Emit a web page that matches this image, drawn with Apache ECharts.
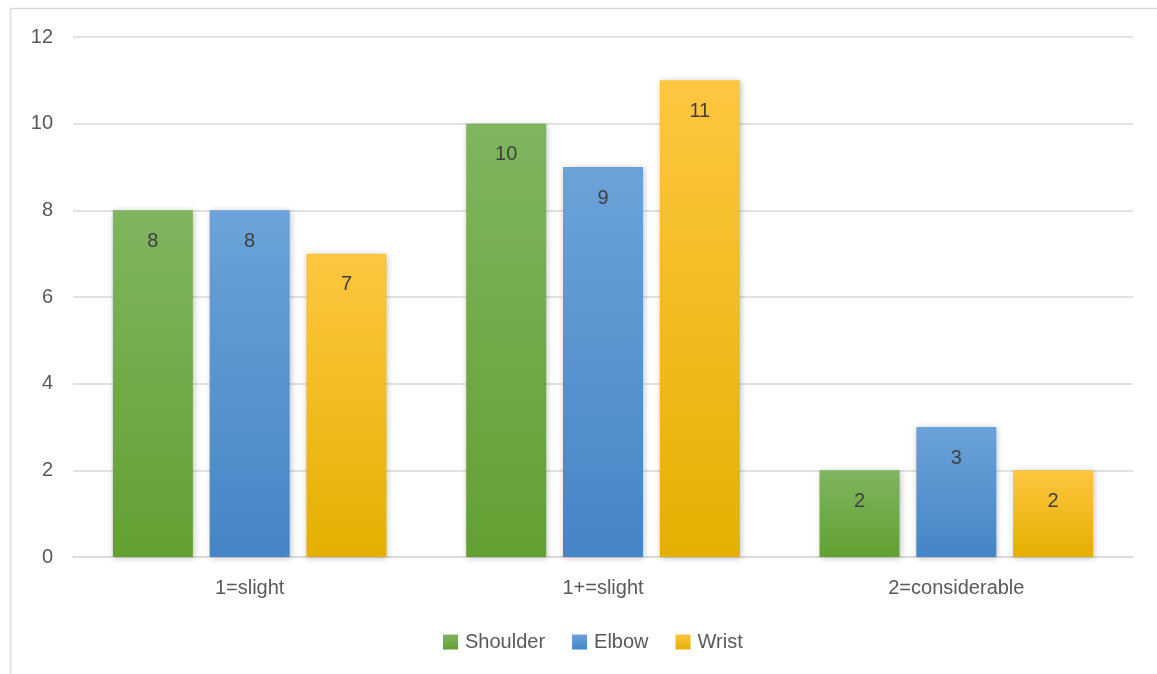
<!DOCTYPE html>
<html>
<head>
<meta charset="utf-8">
<script src="https://cdn.jsdelivr.net/npm/echarts@6/dist/echarts.min.js"></script>
<style>
  html, body { margin: 0; padding: 0; background: #fff; }
  #chart { width: 1157px; height: 674px; }
</style>
</head>
<body>
<div id="chart"></div>
<script>
var categories = ['1=slight', '1+=slight', '2=considerable']
var shoulder = [8, 10, 2]
var elbow = [8, 9, 3]
var wrist = [7, 11, 2]
var yTicks = [0, 2, 4, 6, 8, 10, 12]

var font = 'Liberation Sans, Arial, sans-serif'

function grad(top, bottom) {
    return new echarts.graphic.LinearGradient(0, 0, 0, 1, [
        { offset: 0, color: top },
        { offset: 1, color: bottom }
    ])
}

function makeSeries(name, data, top, bottom) {
    return {
        name: name,
        type: 'bar',
        data: data,
        barWidth: 80,
        barGap: '21%',
        itemStyle: {
            color: grad(top, bottom),
            shadowColor: 'rgba(0,0,0,0.25)',
            shadowBlur: 6,
            shadowOffsetX: 1,
            shadowOffsetY: 1
        },
        label: {
            show: true,
            position: 'insideTop',
            distance: 21,
            color: '#404040',
            fontSize: 20,
            fontFamily: font
        }
    }
}

var myChart = echarts.init(document.getElementById('chart'))
var option = {
    animation: false,
    backgroundColor: '#fff',
    graphic: [
        {
            type: 'rect',
            shape: { x: 10.5, y: 8.5, width: 1200, height: 700 },
            style: { fill: 'none', stroke: '#d9d9d9', lineWidth: 1.5 },
            silent: true
        }
    ],
    grid: { left: 73, right: 24, top: 37, bottom: 117 },
    legend: {
        bottom: 17,
        left: 438,
        itemWidth: 15,
        itemHeight: 15,
        itemGap: 27,
        icon: 'rect',
        textStyle: { color: '#595959', fontSize: 20, fontFamily: font, padding: [0, 0, 0, 2] },
        data: [
            { name: 'Shoulder', itemStyle: { color: grad('#7fb55e', '#62a032') } },
            { name: 'Elbow', itemStyle: { color: grad('#6ba2d9', '#4585c6') } },
            { name: 'Wrist', itemStyle: { color: grad('#ffc640', '#e4b000') } }
        ]
    },
    xAxis: {
        type: 'category',
        data: categories,
        axisLine: { lineStyle: { color: '#d9d9d9', width: 1.5 } },
        axisTick: { show: false },
        axisLabel: { color: '#595959', fontSize: 20, fontFamily: font, margin: 21 }
    },
    yAxis: {
        type: 'value',
        min: yTicks[0],
        max: yTicks[yTicks.length - 1],
        interval: 2,
        axisLine: { show: false },
        axisTick: { show: false },
        splitLine: { lineStyle: { color: '#d9d9d9', width: 1.5 } },
        axisLabel: { color: '#595959', fontSize: 20, fontFamily: font, margin: 20 }
    },
    series: [
        makeSeries('Shoulder', shoulder, '#7fb55e', '#62a032'),
        makeSeries('Elbow', elbow, '#6ba2d9', '#4585c6'),
        makeSeries('Wrist', wrist, '#ffc640', '#e4b000')
    ]
}
myChart.setOption(option)
</script>
</body>
</html>
